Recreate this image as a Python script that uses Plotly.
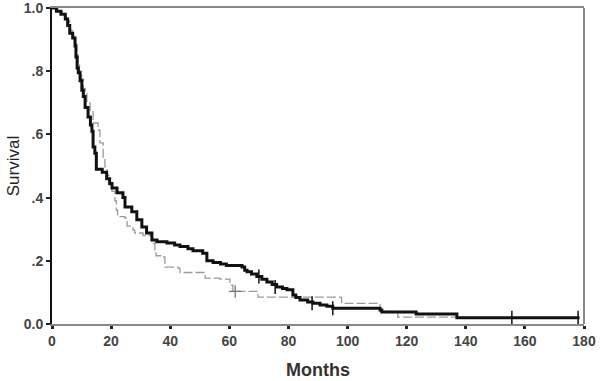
import plotly.graph_objects as go

# Black (thick) survival curve: event times (months) and survival after event
black_months = [0, 1.5, 3, 4.5, 5.3, 6.0, 7.0, 7.8, 8.1, 8.5, 8.9, 9.5, 10.1, 10.6, 11.2, 12.2,
                13.0, 13.5, 13.9, 14.5, 15.0, 17.0, 18.5, 19.5, 20.3, 22.0, 24.0, 24.7, 27.0,
                28.7, 30.4, 32.0, 33.8, 35.5, 38.9, 41.5, 43.3, 46.0, 47.7, 51.0, 52.4, 54.5,
                57.0, 59.0, 64.3, 65.2, 66.0, 67.5, 69.3, 71.0, 72.7, 74.5, 76.0, 78.0, 79.5,
                81.5, 82.5, 83.9, 86.5, 88.3, 90.7, 93.0, 95.0, 111.0, 111.6, 123.2, 137.0, 178.5]
black_surv = [1.0, 0.99, 0.98, 0.965, 0.945, 0.92, 0.905, 0.88, 0.845, 0.81, 0.795, 0.77, 0.74,
              0.72, 0.685, 0.655, 0.63, 0.61, 0.56, 0.54, 0.49, 0.48, 0.46, 0.445, 0.43, 0.415,
              0.40, 0.37, 0.355, 0.33, 0.307, 0.288, 0.266, 0.26, 0.256, 0.25, 0.245, 0.238,
              0.232, 0.224, 0.20, 0.195, 0.19, 0.185, 0.18, 0.17, 0.165, 0.158, 0.15, 0.142,
              0.133, 0.125, 0.117, 0.112, 0.108, 0.092, 0.084, 0.076, 0.07, 0.066, 0.06, 0.056,
              0.05, 0.044, 0.038, 0.032, 0.02, 0.02]
black_censor_months = [70.0, 75.5, 88.0, 95.0, 155.6, 178.0]
black_censor_surv = [0.15, 0.117, 0.066, 0.05, 0.02, 0.02]

# Gray (thin) survival curve
gray_months = [0, 2.0, 3.5, 5.0, 6.0, 6.8, 7.6, 8.3, 8.8, 9.3, 10.0, 10.6, 11.2, 11.8, 12.9, 13.9,
               15.6, 16.2, 17.3, 17.9, 18.6, 19.5, 20.3, 21.3, 21.8, 22.2, 24.7, 25.4, 27.4, 28.0,
               30.8, 33.8, 34.8, 35.2, 37.5, 38.2, 42.6, 43.3, 51.8, 56.8, 60.2, 61.2, 69.7,
               98.0, 111.0, 117.0, 137.0]
gray_surv = [1.0, 0.99, 0.98, 0.96, 0.93, 0.91, 0.89, 0.855, 0.82, 0.80, 0.775, 0.745, 0.73, 0.70,
             0.677, 0.636, 0.614, 0.573, 0.528, 0.497, 0.47, 0.44, 0.42, 0.39, 0.36, 0.34, 0.335,
             0.31, 0.297, 0.288, 0.28, 0.256, 0.234, 0.216, 0.212, 0.18, 0.177, 0.163, 0.145,
             0.142, 0.123, 0.103, 0.085, 0.065, 0.04, 0.022, 0.022]
gray_censor_months = [62.0]
gray_censor_surv = [0.103]

x_ticks = [0, 20, 40, 60, 80, 100, 120, 140, 160, 180]
y_ticks = [0.0, 0.2, 0.4, 0.6, 0.8, 1.0]
y_tick_labels = ["0.0", ".2", ".4", ".6", ".8", "1.0"]

fig = go.Figure()
fig.add_trace(go.Scatter(x=gray_months, y=gray_surv, mode="lines", line_shape="hv",
                         line=dict(color="#9a9a9a", width=1.3, dash="9px,3px"),
                         showlegend=False, hoverinfo="skip"))
fig.add_trace(go.Scatter(x=gray_censor_months, y=gray_censor_surv, mode="markers",
                         marker=dict(symbol="cross-thin", size=9,
                                     line=dict(color="#777", width=1.3)),
                         showlegend=False))
fig.add_trace(go.Scatter(x=black_months, y=black_surv, mode="lines", line_shape="hv",
                         line=dict(color="#111", width=3),
                         showlegend=False, hoverinfo="skip"))
fig.add_trace(go.Scatter(x=black_censor_months, y=black_censor_surv, mode="markers",
                         marker=dict(symbol="line-ns", size=10,
                                     line=dict(color="#111", width=1.5)),
                         showlegend=False))

tick_font = dict(family="Liberation Sans, Arial, sans-serif", size=14, color="#444", weight="bold")

fig.update_layout(
    width=600, height=381,
    margin=dict(l=52, r=16, t=8, b=57, autoexpand=False),
    paper_bgcolor="white", plot_bgcolor="white",
    xaxis=dict(range=[0, 180], tickvals=x_ticks, ticks="outside", ticklen=3, tickwidth=3,
               tickcolor="#222", showgrid=False, zeroline=False, automargin=False,
               ticklabeloverflow="allow",
               showline=True, linecolor="#888", linewidth=2, mirror=True,
               tickfont=tick_font,
               title=dict(text="Months", standoff=16,
                          font=dict(family="Liberation Sans, Arial, sans-serif", size=18,
                                    color="#333", weight="bold"))),
    yaxis=dict(range=[0, 1], tickvals=y_ticks, ticktext=y_tick_labels, ticks="outside",
               ticklen=4, tickwidth=2, tickcolor="#222", showgrid=False, zeroline=False,
               automargin=False, ticklabeloverflow="allow",
               showline=True, linecolor="#111", linewidth=2,
               tickfont=tick_font,
               title=dict(text="Survival", standoff=0,
                          font=dict(family="Liberation Sans, Arial, sans-serif", size=17,
                                    color="#222"))),
    shapes=[dict(type="line", xref="paper", yref="paper", x0=1, x1=1, y0=0, y1=1,
                 line=dict(color="#888", width=2))],
)

# remove the default 8px page margin so the 600x381 figure fills the window exactly
fig.write_html("out.html", config={"displayModeBar": False},
               post_script="document.body.style.margin='0';")
